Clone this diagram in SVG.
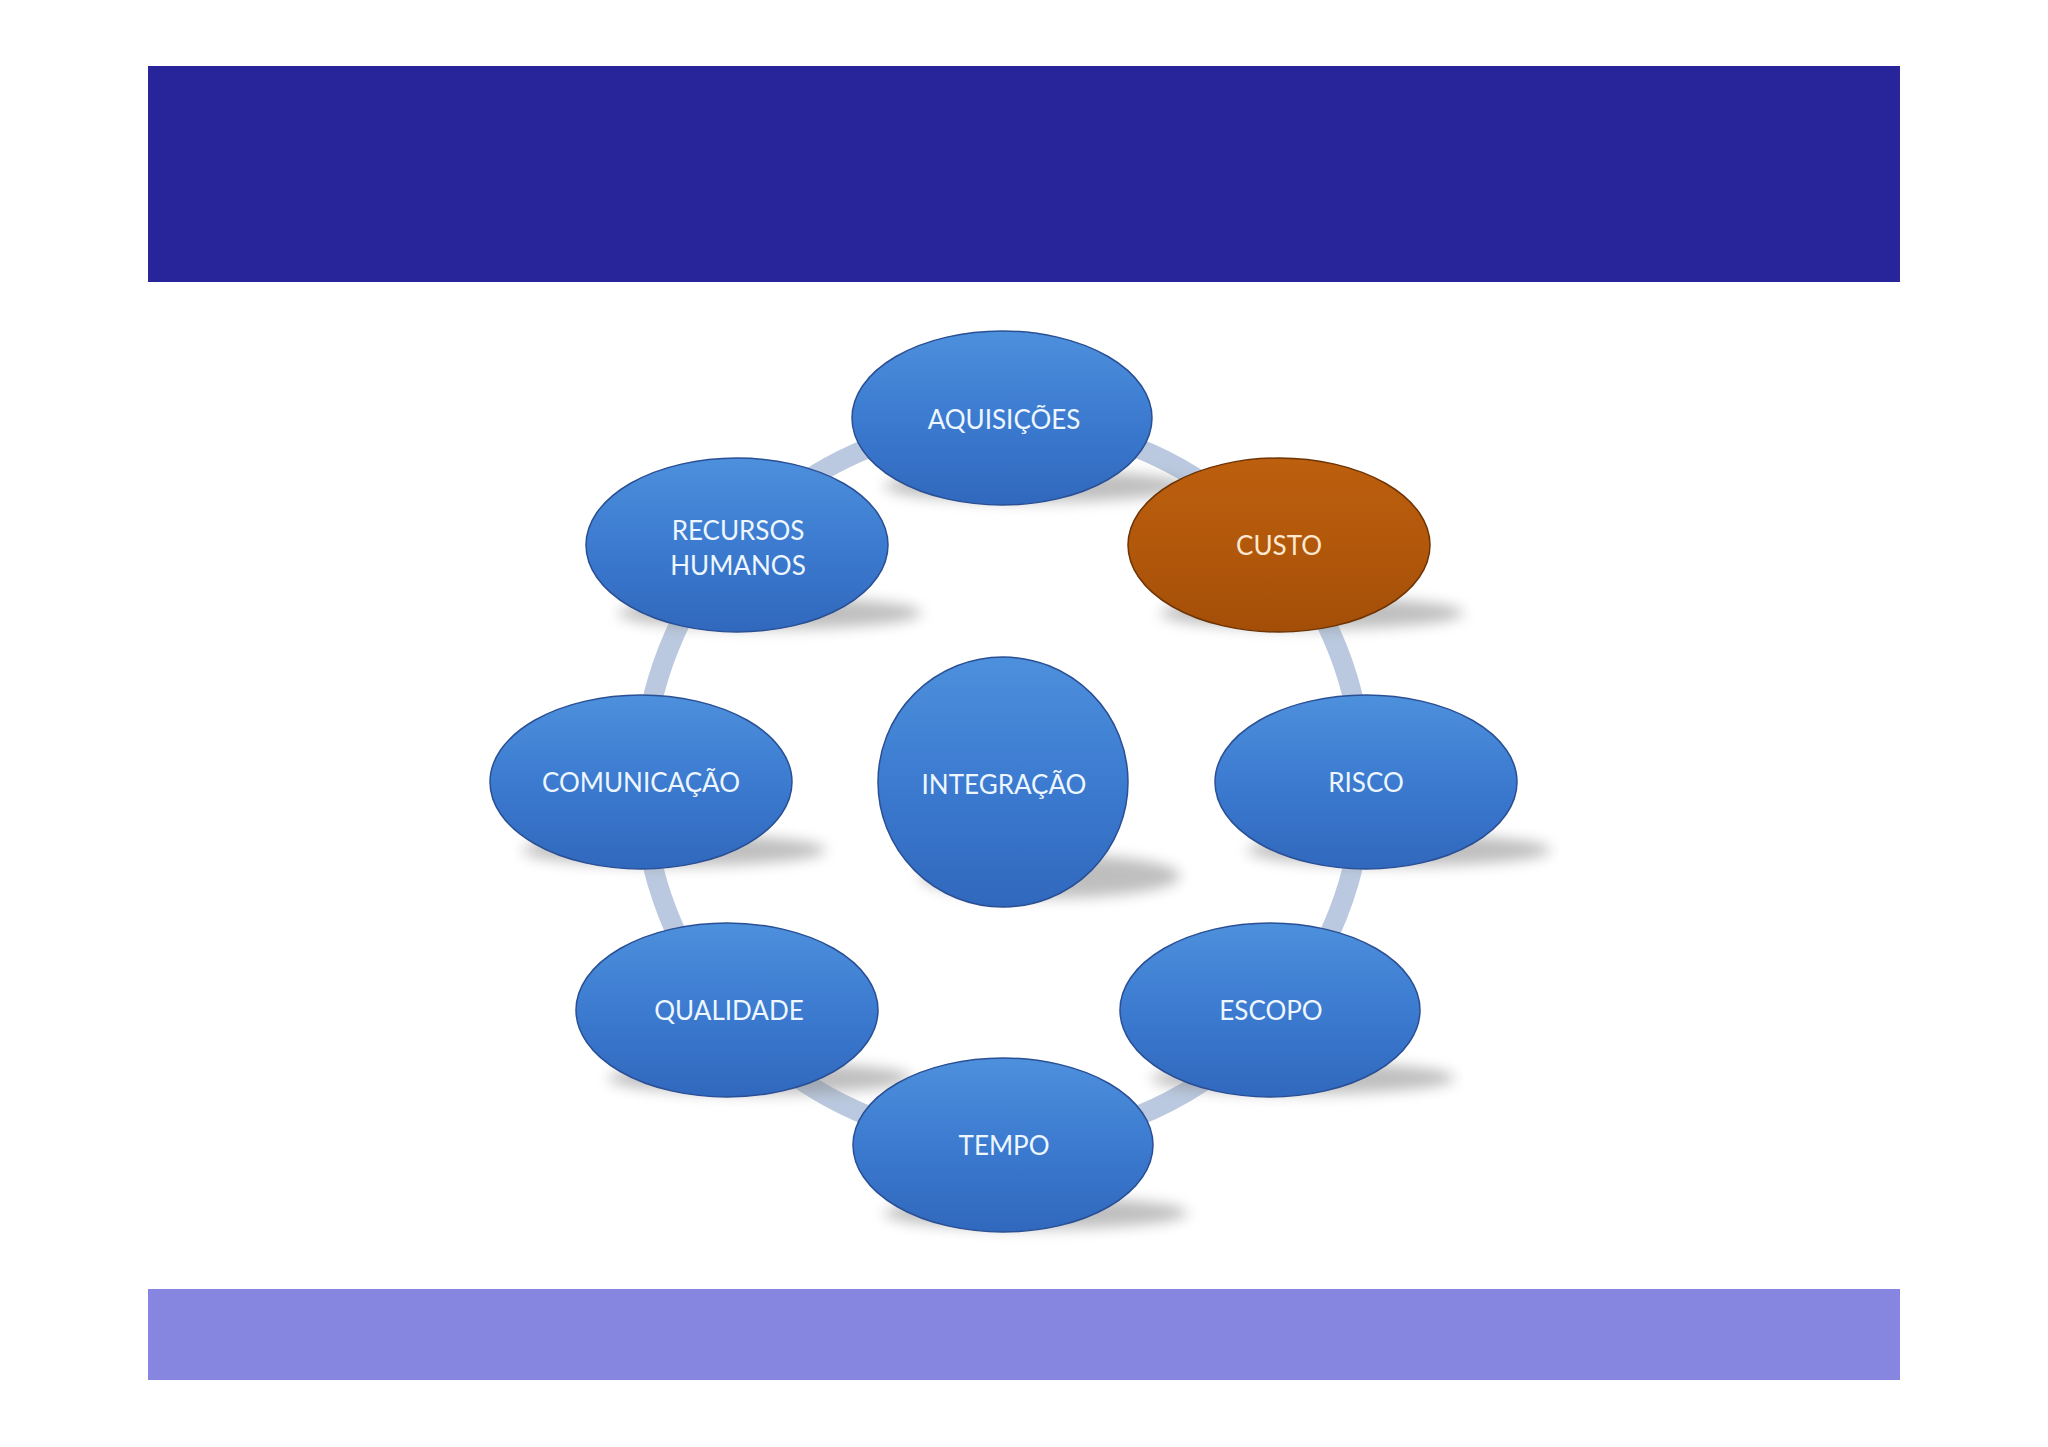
<svg xmlns="http://www.w3.org/2000/svg" width="2048" height="1447" viewBox="0 0 2048 1447">
<defs>
<linearGradient id="gBlue" x1="0" y1="0" x2="0" y2="1">
<stop offset="0" stop-color="#4d90dc"/>
<stop offset="0.5" stop-color="#3c7bd0"/>
<stop offset="1" stop-color="#3068bd"/>
</linearGradient>
<linearGradient id="gOrange" x1="0" y1="0" x2="0" y2="1">
<stop offset="0" stop-color="#bc5f0e"/>
<stop offset="0.5" stop-color="#b2580b"/>
<stop offset="1" stop-color="#a34e08"/>
</linearGradient>
<filter id="blur" x="-30%" y="-100%" width="160%" height="300%">
<feGaussianBlur stdDeviation="7"/>
</filter>
<style>
.node{stroke:#2a4f94;stroke-width:1.5}
.blue{fill:url(#gBlue)}
.orange{fill:url(#gOrange);stroke:#6e3405}
.shadow{fill:#8a8a8a;opacity:0.55;filter:url(#blur)}
.lbl{font-family:Lato,"Open Sans","Liberation Sans",sans-serif;font-size:26px;fill:#eef7ff;text-anchor:middle;dominant-baseline:central}
.lblo{fill:#fde9d2}
</style>
</defs>
<rect x="0" y="0" width="2048" height="1447" fill="#ffffff"/>
<rect id="header" x="148" y="66" width="1752" height="216" fill="#28259a"/>
<rect id="footer" x="148" y="1289" width="1752" height="91" fill="#8685e0"/>
<g id="connectors">
<circle cx="1003" cy="782" r="360" fill="none" stroke="#bac9df" stroke-width="20"/>
</g>
<g id="n-aquisicoes">
<ellipse class="shadow" cx="1036" cy="486" rx="152" ry="16"/>
<ellipse class="node blue" cx="1002" cy="418" rx="150" ry="87"/>
<text class="lbl" x="1004" y="419">AQUISIÇÕES</text>
</g>
<g id="n-custo">
<ellipse class="shadow" cx="1312" cy="613" rx="152" ry="16"/>
<ellipse class="node orange" cx="1279" cy="545" rx="151" ry="87"/>
<text class="lbl lblo" x="1279" y="545">CUSTO</text>
</g>
<g id="n-recursos">
<ellipse class="shadow" cx="770" cy="613" rx="152" ry="16"/>
<ellipse class="node blue" cx="737" cy="545" rx="151" ry="87"/>
<text class="lbl" x="738" y="530">RECURSOS</text>
<text class="lbl" x="738" y="565">HUMANOS</text>
</g>
<g id="n-comunicacao">
<ellipse class="shadow" cx="674" cy="850" rx="152" ry="16"/>
<ellipse class="node blue" cx="641" cy="782" rx="151" ry="87"/>
<text class="lbl" x="641" y="782">COMUNICAÇÃO</text>
</g>
<g id="n-integracao">
<ellipse class="shadow" cx="1050" cy="876" rx="130" ry="22"/>
<circle class="node blue" cx="1003" cy="782" r="125"/>
<text class="lbl" x="1004" y="784">INTEGRAÇÃO</text>
</g>
<g id="n-risco">
<ellipse class="shadow" cx="1399" cy="850" rx="152" ry="16"/>
<ellipse class="node blue" cx="1366" cy="782" rx="151" ry="87"/>
<text class="lbl" x="1366" y="782">RISCO</text>
</g>
<g id="n-qualidade">
<ellipse class="shadow" cx="760" cy="1078" rx="152" ry="16"/>
<ellipse class="node blue" cx="727" cy="1010" rx="151" ry="87"/>
<text class="lbl" x="729" y="1010">QUALIDADE</text>
</g>
<g id="n-escopo">
<ellipse class="shadow" cx="1303" cy="1078" rx="152" ry="16"/>
<ellipse class="node blue" cx="1270" cy="1010" rx="150" ry="87"/>
<text class="lbl" x="1271" y="1010">ESCOPO</text>
</g>
<g id="n-tempo">
<ellipse class="shadow" cx="1036" cy="1213" rx="152" ry="16"/>
<ellipse class="node blue" cx="1003" cy="1145" rx="150" ry="87"/>
<text class="lbl" x="1004" y="1145">TEMPO</text>
</g>
</svg>
